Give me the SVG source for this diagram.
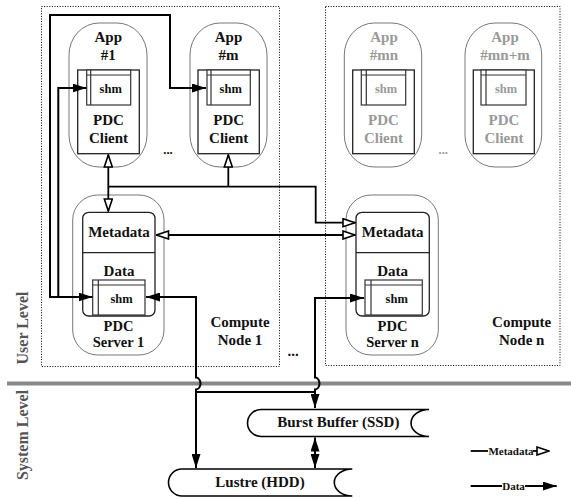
<svg xmlns="http://www.w3.org/2000/svg" width="571" height="498" viewBox="0 0 571 498">
<style>
text{font-family:"Liberation Serif","Times New Roman",serif;font-weight:bold;fill:#111;text-anchor:middle}
.t15{font-size:15px}
.t14{font-size:14.5px}
.t12{font-size:12.5px}
.t11{font-size:11px}
.dim{fill:#999}
.lvl{font-size:16px;fill:#555}
.node{fill:none;stroke:#000;stroke-width:1;stroke-dasharray:1 1.6}
.outer{fill:#fff;stroke:#777;stroke-width:1}
.inner{fill:#fff;stroke:#222;stroke-width:1.3}
.shm{fill:#fff;stroke:#333;stroke-width:1.2}
.wire{fill:none;stroke:#000;stroke-width:2}
.meta{fill:none;stroke:#000;stroke-width:1.8}
.store{fill:#fff;stroke:#000;stroke-width:1.6}
</style>
<defs>
<marker id="fa" viewBox="0 0 14 9" refX="14" refY="4.5" markerWidth="14" markerHeight="9" markerUnits="userSpaceOnUse" orient="auto-start-reverse">
<path d="M0,0 L14,4.5 L0,9 z" fill="#000"/>
</marker>
<marker id="ha" viewBox="0 0 14 10" refX="13" refY="5" markerWidth="14" markerHeight="10" markerUnits="userSpaceOnUse" orient="auto-start-reverse">
<path d="M1,1 L13,5 L1,9 z" fill="#fff" stroke="#000" stroke-width="1.6"/>
</marker>
</defs>

<!-- compute nodes -->
<g id="compute-node-1">
<rect class="node" x="41.5" y="6.5" width="238" height="360"/>
<text class="t15" x="240" y="326.7">Compute</text>
<text class="t15" x="240" y="345">Node 1</text>
</g>
<g id="compute-node-n">
<rect class="node" x="325.5" y="6.5" width="234.5" height="359"/>
<text class="t15" x="521.7" y="326.7">Compute</text>
<text class="t15" x="521.7" y="345">Node n</text>
</g>

<!-- level divider -->
<g id="levels">
<line x1="7" y1="383.5" x2="571" y2="383.5" stroke="#888" stroke-width="4"/>
<text class="lvl" transform="translate(28,328) rotate(-90)">User Level</text>
<text class="lvl" transform="translate(28,435) rotate(-90)">System Level</text>
</g>

<!-- apps node 1 -->
<g id="app-1">
<rect class="outer" x="69" y="23" width="78" height="144" rx="30" ry="32"/>
<rect class="inner" x="77.7" y="70" width="61.6" height="83.7"/>
<rect class="shm" x="86.7" y="70" width="44" height="35"/>
<line x1="90.7" y1="70" x2="90.7" y2="105" stroke="#333" stroke-width="1.2"/>
<line x1="86.7" y1="75" x2="130.7" y2="75" stroke="#333" stroke-width="1.2"/>
<text class="t15" x="108.3" y="42">App</text>
<text class="t15" x="108.3" y="60">#1</text>
<text class="t12" x="110.7" y="93.3">shm</text>
<text class="t15" x="108.5" y="125.3">PDC</text>
<text class="t15" x="108.5" y="143.3">Client</text>
</g>
<g id="app-m">
<rect class="outer" x="190" y="23" width="77" height="144" rx="30" ry="32"/>
<rect class="inner" x="198" y="70" width="61.3" height="83.7"/>
<rect class="shm" x="207" y="70" width="43.3" height="35"/>
<line x1="211" y1="70" x2="211" y2="105" stroke="#333" stroke-width="1.2"/>
<line x1="207" y1="75" x2="250.3" y2="75" stroke="#333" stroke-width="1.2"/>
<text class="t15" x="228.5" y="42">App</text>
<text class="t15" x="228.5" y="60">#m</text>
<text class="t12" x="230.7" y="93.3">shm</text>
<text class="t15" x="228.7" y="125.3">PDC</text>
<text class="t15" x="228.7" y="143.3">Client</text>
</g>
<text class="t12" x="168" y="154">...</text>

<!-- apps node n -->
<g id="app-mn">
<rect class="outer" x="344.3" y="23" width="77.4" height="144" rx="30" ry="32"/>
<rect class="inner" x="352.7" y="70" width="61.6" height="83.7"/>
<rect class="shm" x="361.3" y="70" width="44.4" height="35"/>
<line x1="366.3" y1="70" x2="366.3" y2="105" stroke="#333" stroke-width="1.2"/>
<line x1="361.3" y1="75" x2="405.7" y2="75" stroke="#333" stroke-width="1.2"/>
<text class="t15 dim" x="384" y="42">App</text>
<text class="t15 dim" x="384" y="60">#mn</text>
<text class="t12 dim" x="386" y="93.3">shm</text>
<text class="t15 dim" x="383.5" y="125.3">PDC</text>
<text class="t15 dim" x="383.5" y="143.3">Client</text>
</g>
<g id="app-mn-m">
<rect class="outer" x="465" y="23" width="76.7" height="144" rx="30" ry="32"/>
<rect class="inner" x="473.3" y="70" width="61" height="83.7"/>
<rect class="shm" x="481" y="70" width="45" height="35"/>
<line x1="486" y1="70" x2="486" y2="105" stroke="#333" stroke-width="1.2"/>
<line x1="481" y1="75" x2="526" y2="75" stroke="#333" stroke-width="1.2"/>
<text class="t15 dim" x="505" y="42">App</text>
<text class="t15 dim" x="505" y="60">#mn+m</text>
<text class="t12 dim" x="506" y="93.3">shm</text>
<text class="t15 dim" x="504" y="125.3">PDC</text>
<text class="t15 dim" x="504" y="143.3">Client</text>
</g>
<text class="t12 dim" x="443.3" y="154">...</text>

<!-- servers -->
<g id="server-1">
<rect class="outer" x="72.7" y="195" width="91.3" height="160" rx="25" ry="25"/>
<rect class="inner" x="82.7" y="212.3" width="72.3" height="103.7" rx="6" ry="6"/>
<line x1="82.7" y1="252.7" x2="155" y2="252.7" stroke="#222" stroke-width="1.2"/>
<rect class="shm" x="92.7" y="280" width="52.3" height="35"/>
<line x1="98.3" y1="280" x2="98.3" y2="315" stroke="#333" stroke-width="1.2"/>
<line x1="92.7" y1="285" x2="145" y2="285" stroke="#333" stroke-width="1.2"/>
<text class="t15" x="119" y="236.7">Metadata</text>
<text class="t15" x="119" y="275.7">Data</text>
<text class="t12" x="121.5" y="303.3">shm</text>
<text class="t14" x="118.5" y="330.5">PDC</text>
<text class="t14" x="118.5" y="346.5">Server 1</text>
</g>
<g id="server-n">
<rect class="outer" x="346" y="195" width="92.3" height="160" rx="25" ry="25"/>
<rect class="inner" x="356" y="212.3" width="73.3" height="103.7" rx="6" ry="6"/>
<line x1="356" y1="252.7" x2="429.3" y2="252.7" stroke="#222" stroke-width="1.2"/>
<rect class="shm" x="365" y="280" width="57.3" height="35"/>
<line x1="371" y1="280" x2="371" y2="315" stroke="#333" stroke-width="1.2"/>
<line x1="365" y1="285" x2="422.3" y2="285" stroke="#333" stroke-width="1.2"/>
<text class="t15" x="392.7" y="236.7">Metadata</text>
<text class="t15" x="392.7" y="275.7">Data</text>
<text class="t12" x="396.7" y="303.3">shm</text>
<text class="t14" x="392.5" y="330.5">PDC</text>
<text class="t14" x="392.5" y="346.5">Server n</text>
</g>
<text class="t15" x="293" y="356">...</text>

<!-- storage -->
<g id="burst-buffer">
<path class="store" d="M429,409.5 H261 A13.5,13.5 0 0 0 261,436.5 H429 A18,13.5 0 0 1 429,409.5"/>
<text class="t15" x="338.3" y="427">Burst Buffer (SSD)</text>
</g>
<g id="lustre">
<path class="store" d="M352.3,469 H182 A13.5,13.5 0 0 0 182,496 H352.3 A18,13.5 0 0 1 352.3,469"/>
<text class="t15" x="260" y="487">Lustre (HDD)</text>
</g>

<!-- connectors -->
<g id="connectors">
<path class="meta" d="M108.3,155 V211" marker-start="url(#ha)" marker-end="url(#ha)"/>
<path class="meta" d="M108.3,186.7 H315.7 V222.7 H355" marker-end="url(#ha)"/>
<path class="meta" d="M228.3,186.7 V155" marker-end="url(#ha)"/>
<path class="meta" d="M156.5,235 H355" marker-start="url(#ha)" marker-end="url(#ha)"/>

<path class="wire" d="M50,297 V15 H170 V88 H206" marker-end="url(#fa)"/>
<path class="wire" d="M58.3,297 V88 H86.5" marker-end="url(#fa)"/>
<path class="wire" d="M49,297 H92.5" marker-end="url(#fa)"/>
<path class="wire" d="M196,297 H146" marker-end="url(#fa)"/>
<path class="wire" d="M196,296 V377.5 a4.5,6 0 0 1 0,12 V468" marker-end="url(#fa)"/>
<path class="wire" d="M315,298 H364" marker-end="url(#fa)"/>
<path class="wire" d="M315,297 V377.5 a4.5,6 0 0 1 0,12 V408" marker-end="url(#fa)"/>
<path class="wire" d="M196,392 H315"/>
<path class="wire" d="M315,437.5 V468" marker-start="url(#fa)" marker-end="url(#fa)"/>
</g>

<!-- legend -->
<g id="legend">
<path class="meta" d="M470.7,451 H488"/>
<text class="t11" x="511" y="455">Metadata</text>
<path class="meta" d="M533,451 H549" marker-end="url(#ha)"/>
<path class="wire" d="M470.7,486 H502"/>
<text class="t11" x="513.5" y="490">Data</text>
<path class="wire" d="M525,486 H556.7" marker-end="url(#fa)"/>
</g>
</svg>
